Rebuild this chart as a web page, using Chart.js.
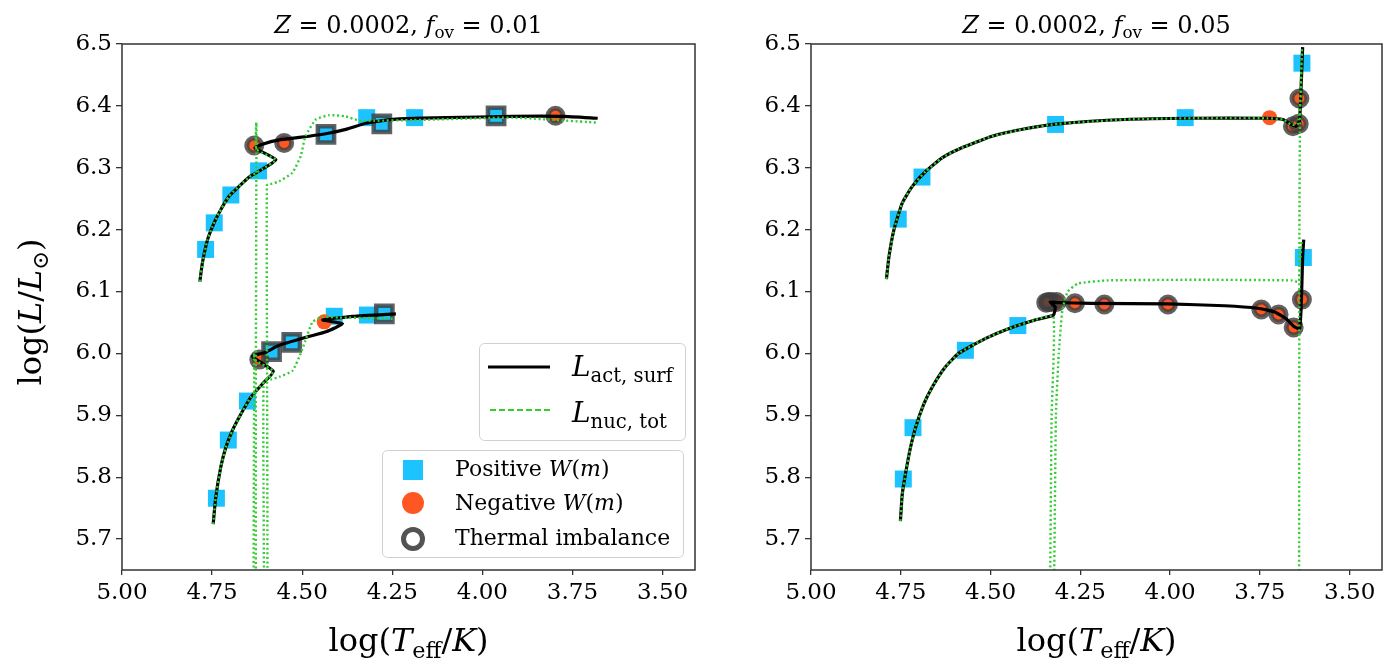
<!DOCTYPE html>
<html>
<head>
<meta charset="utf-8">
<script src="https://cdn.jsdelivr.net/npm/chart.js@4.4.1/dist/chart.umd.min.js"></script>
<style>
  body { margin: 0; background: #fff; }
  #wrap { position: relative; width: 1390px; height: 660px; font-family: "DejaVu Serif", serif; color: #000; }
  canvas { position: absolute; top: 0; }
  .txt { position: absolute; white-space: nowrap; line-height: 1; }
  .ctr { text-align: center; }
  sub { font-size: 70%; vertical-align: baseline; position: relative; top: 0.3em; }
  svg { position: absolute; left: 0; top: 0; }
</style>
</head>
<body>
<div id="wrap">
  <canvas id="left" width="700" height="660" style="left:0"></canvas>
  <canvas id="right" width="690" height="660" style="left:700px"></canvas>

  <svg width="1390" height="660">
    <rect x="479.5" y="343.5" width="206" height="97" rx="5" fill="rgba(255,255,255,0.8)" stroke="#d0d0d0" stroke-width="1"/>
    <line x1="488" y1="367" x2="550" y2="367" stroke="#000" stroke-width="3.2"/>
    <line x1="490" y1="410" x2="550" y2="410" stroke="#33cc33" stroke-width="2" stroke-dasharray="6,3"/>
    <rect x="382.5" y="450.5" width="301" height="107" rx="5" fill="rgba(255,255,255,0.8)" stroke="#d0d0d0" stroke-width="1"/>
    <rect x="403" y="460" width="20" height="20" fill="#1cc3ff"/>
    <circle cx="413" cy="503" r="11" fill="#ff5722"/>
    <circle cx="413" cy="539" r="9.5" fill="none" stroke="rgba(64,64,64,0.9)" stroke-width="5"/>
  </svg>

  <div class="txt ctr" style="left:122px;width:573px;top:13px;font-size:24px"><i>Z</i> = 0.0002, <i>f</i><sub>ov</sub> = 0.01</div>
  <div class="txt ctr" style="left:811px;width:571px;top:13px;font-size:24px"><i>Z</i> = 0.0002, <i>f</i><sub>ov</sub> = 0.05</div>

  <div class="txt ctr" style="left:122px;width:573px;top:624px;font-size:32px">log(<i>T</i><sub>eff</sub>/<i>K</i>)</div>
  <div class="txt ctr" style="left:811px;width:571px;top:624px;font-size:32px">log(<i>T</i><sub>eff</sub>/<i>K</i>)</div>
  <div class="txt ctr" style="left:-70px;width:200px;top:296px;font-size:32px;transform:rotate(-90deg)">log(<i>L</i>/<i>L</i><sub>⊙</sub>)</div>

  <div class="txt" style="left:572px;top:353px;font-size:28px"><i>L</i><sub>act, surf</sub></div>
  <div class="txt" style="left:572px;top:399px;font-size:28px"><i>L</i><sub>nuc, tot</sub></div>
  <div class="txt" style="left:455px;top:458px;font-size:22px">Positive <i>W</i>(<i>m</i>)</div>
  <div class="txt" style="left:455px;top:492px;font-size:22px">Negative <i>W</i>(<i>m</i>)</div>
  <div class="txt" style="left:455px;top:527px;font-size:22px">Thermal imbalance</div>
</div>

<script>
// axis ticks
const xTicks = [5.00, 4.75, 4.50, 4.25, 4.00, 3.75, 3.50];
const yTicks = [5.7, 5.8, 5.9, 6.0, 6.1, 6.2, 6.3, 6.4, 6.5];

// left panel, f_ov = 0.01  [log Teff, log L]
const leftUpperAct = [[4.784,6.116],[4.777,6.146],[4.763,6.183],[4.749,6.205],[4.731,6.227],[4.703,6.254],[4.675,6.270],[4.647,6.285],[4.610,6.298],[4.573,6.313],[4.631,6.332],[4.610,6.338],[4.564,6.345],[4.508,6.349],[4.434,6.355],[4.379,6.362],[4.323,6.372],[4.268,6.377],[4.231,6.379],[4.101,6.381],[3.916,6.383],[3.777,6.383],[3.680,6.380]];
const leftUpperNuc = [[4.784,6.116],[4.777,6.146],[4.763,6.183],[4.749,6.205],[4.731,6.227],[4.703,6.254],[4.675,6.270],[4.647,6.285],[4.610,6.298],[4.573,6.313],[4.627,6.330],[4.627,6.373],[4.627,5.50],[4.598,5.50],[4.598,6.272],[4.585,6.274],[4.564,6.278],[4.527,6.292],[4.504,6.319],[4.491,6.351],[4.462,6.378],[4.425,6.385],[4.379,6.383],[4.342,6.376],[4.300,6.376],[4.194,6.377],[3.917,6.381],[3.684,6.373]];
const leftLowerAct = [[4.747,5.724],[4.740,5.767],[4.726,5.816],[4.712,5.848],[4.694,5.875],[4.670,5.902],[4.643,5.929],[4.610,5.951],[4.580,5.971],[4.638,5.995],[4.601,6.002],[4.564,6.013],[4.490,6.026],[4.434,6.035],[4.388,6.048],[4.443,6.054],[4.360,6.060],[4.240,6.064]];
const leftLowerNuc = [[4.747,5.724],[4.740,5.767],[4.726,5.816],[4.712,5.848],[4.694,5.875],[4.670,5.902],[4.643,5.929],[4.610,5.951],[4.580,5.971],[4.633,5.990],[4.633,6.000],[4.633,5.50],[4.607,5.50],[4.607,5.955],[4.585,5.958],[4.564,5.962],[4.527,5.972],[4.504,6.000],[4.491,6.021],[4.471,6.051],[4.443,6.059],[4.400,6.058],[4.300,6.057],[4.249,6.056]];
const leftPos = [[4.768,6.168],[4.744,6.211],[4.698,6.256],[4.621,6.295],[4.434,6.354],[4.321,6.381],[4.279,6.371],[4.188,6.381],[3.962,6.384],[4.738,5.766],[4.705,5.860],[4.652,5.923],[4.585,6.003],[4.529,6.018],[4.411,6.060],[4.319,6.062],[4.272,6.064]];
const leftNeg = [[4.633,6.336],[4.550,6.340],[3.797,6.384],[4.619,5.990],[4.439,6.051]];
const leftImbPos = [[4.434,6.354],[4.279,6.371],[3.962,6.384],[4.585,6.003],[4.529,6.018],[4.272,6.064]];
const leftImbNeg = [[4.633,6.336],[4.550,6.340],[3.797,6.384],[4.619,5.990]];

// right panel, f_ov = 0.05
const rightUpperAct = [[4.790,6.120],[4.783,6.156],[4.769,6.200],[4.746,6.243],[4.718,6.270],[4.681,6.294],[4.635,6.316],[4.589,6.330],[4.496,6.351],[4.404,6.363],[4.311,6.371],[4.126,6.378],[3.941,6.380],[3.728,6.380],[3.686,6.378],[3.663,6.370],[3.649,6.367],[3.640,6.375],[3.637,6.405],[3.631,6.495]];
const rightUpperNuc = [[4.790,6.120],[4.783,6.156],[4.769,6.200],[4.746,6.243],[4.718,6.270],[4.681,6.294],[4.635,6.316],[4.589,6.330],[4.496,6.351],[4.404,6.363],[4.311,6.371],[4.126,6.378],[3.941,6.380],[3.728,6.380],[3.686,6.378],[3.663,6.370],[3.645,6.370],[3.637,6.405],[3.633,6.490],[3.638,6.400],[3.640,6.200],[3.641,5.50]];
const rightLowerAct = [[4.751,5.729],[4.746,5.772],[4.737,5.805],[4.723,5.848],[4.709,5.880],[4.686,5.918],[4.663,5.945],[4.626,5.978],[4.589,6.000],[4.515,6.024],[4.450,6.040],[4.376,6.054],[4.325,6.062],[4.320,6.075],[4.334,6.083],[4.311,6.082],[4.219,6.081],[4.006,6.080],[3.848,6.077],[3.756,6.073],[3.709,6.067],[3.677,6.056],[3.654,6.043],[3.640,6.040],[3.635,6.075],[3.631,6.156],[3.628,6.184]];
const rightLowerNuc = [[4.751,5.729],[4.746,5.772],[4.737,5.805],[4.723,5.848],[4.709,5.880],[4.686,5.918],[4.663,5.945],[4.626,5.978],[4.589,6.000],[4.515,6.024],[4.450,6.040],[4.376,6.054],[4.325,6.060],[4.330,5.900],[4.335,5.50],[4.326,5.50],[4.318,5.900],[4.310,6.000],[4.300,6.070],[4.285,6.100],[4.256,6.113],[4.172,6.118],[3.900,6.119],[3.663,6.118],[3.642,6.116],[3.638,6.150],[3.634,6.180]];
const rightPos = [[4.757,6.217],[4.691,6.285],[4.319,6.370],[3.958,6.381],[3.633,6.469],[4.743,5.797],[4.716,5.880],[4.570,6.005],[4.424,6.045],[3.629,6.155]];
const rightNeg = [[3.723,6.381],[3.658,6.367],[3.642,6.371],[3.640,6.412],[4.345,6.082],[4.339,6.083],[4.330,6.083],[4.316,6.083],[4.265,6.081],[4.183,6.079],[4.006,6.079],[3.746,6.071],[3.698,6.063],[3.656,6.042],[3.633,6.087]];
const rightImbNeg = [[3.658,6.367],[3.642,6.371],[3.640,6.412],[4.345,6.082],[4.339,6.083],[4.330,6.083],[4.316,6.083],[4.265,6.081],[4.183,6.079],[4.006,6.079],[3.746,6.071],[3.698,6.063],[3.656,6.042],[3.633,6.087]];

const BLUE = '#1cc3ff', ORANGE = '#ff5722', GREEN = '#33cc33', RING = 'rgba(64,64,64,0.82)';

const pts = a => a.map(([x, y]) => ({ x, y }));

function lineSet(data, color, width, dash) {
    return {
        data: pts(data), showLine: true, borderColor: color, borderWidth: width,
        borderDash: dash || [], pointRadius: 0, tension: 0.15, fill: false
    };
}

function markSet(data, style, r, fill, edge, bw) {
    return {
        data: pts(data), showLine: false, pointStyle: style, pointRadius: r,
        backgroundColor: fill, borderColor: edge, borderWidth: bw
    };
}

const frame = {
    id: 'frame',
    afterDraw(chart) {
        const { ctx, chartArea: a } = chart;
        ctx.save();
        ctx.strokeStyle = '#333';
        ctx.lineWidth = 1.5;
        ctx.strokeRect(a.left, a.top, a.right - a.left, a.bottom - a.top);
        ctx.restore();
    }
};

function makeChart(id, sets, yWidth, padRight) {
    const tickFont = { family: 'DejaVu Serif', size: 23 };
    new Chart(document.getElementById(id), {
        type: 'scatter',
        data: { datasets: sets },
        options: {
            responsive: false,
            animation: false,
            events: [],
            layout: { autoPadding: false, padding: { top: 44, right: padRight, left: 0, bottom: 0 } },
            plugins: { legend: { display: false }, tooltip: { enabled: false } },
            scales: {
                x: {
                    type: 'linear', reverse: true, min: 3.41, max: 5.0,
                    afterBuildTicks: s => { s.ticks = xTicks.map(v => ({ value: v })); },
                    afterFit: s => { s.height = 90; s.paddingLeft = 0; s.paddingRight = 0; },
                    ticks: { color: '#000', font: tickFont, padding: 4, maxRotation: 0, callback: v => v.toFixed(2) },
                    grid: { drawOnChartArea: false, tickLength: 5, color: '#333', lineWidth: 1.3 },
                    border: { display: false }
                },
                y: {
                    type: 'linear', min: 5.65, max: 6.5,
                    afterBuildTicks: s => { s.ticks = yTicks.map(v => ({ value: v })); },
                    afterFit: s => { s.width = yWidth; s.paddingTop = 0; s.paddingBottom = 0; },
                    ticks: { color: '#000', font: tickFont, padding: 4, callback: v => v.toFixed(1) },
                    grid: { drawOnChartArea: false, tickLength: 6, color: '#333', lineWidth: 1.3 },
                    border: { display: false }
                }
            }
        },
        plugins: [frame]
    });
}

// first dataset is drawn on top
makeChart('left', [
    lineSet(leftUpperNuc, GREEN, 2.4, [2, 2.6]),
    lineSet(leftLowerNuc, GREEN, 2.4, [2, 2.6]),
    lineSet(leftUpperAct, '#000', 3.2),
    lineSet(leftLowerAct, '#000', 3.2),
    markSet(leftImbNeg, 'circle', 7.5, 'rgba(0,0,0,0)', RING, 5),
    markSet(leftImbPos, 'rect', 11.5, 'rgba(0,0,0,0)', RING, 4.5),
    markSet(leftNeg, 'circle', 7.5, ORANGE, ORANGE, 0),
    markSet(leftPos, 'rect', 12, BLUE, BLUE, 0)
], 122, 5);

makeChart('right', [
    lineSet(rightUpperNuc, GREEN, 2.4, [2, 2.6]),
    lineSet(rightLowerNuc, GREEN, 2.4, [2, 2.6]),
    lineSet(rightUpperAct, '#000', 3.2),
    lineSet(rightLowerAct, '#000', 3.2),
    markSet(rightImbNeg, 'circle', 7.5, 'rgba(0,0,0,0)', RING, 5),
    markSet(rightNeg, 'circle', 7.5, ORANGE, ORANGE, 0),
    markSet(rightPos, 'rect', 12, BLUE, BLUE, 0)
], 111, 8);
</script>
</body>
</html>
